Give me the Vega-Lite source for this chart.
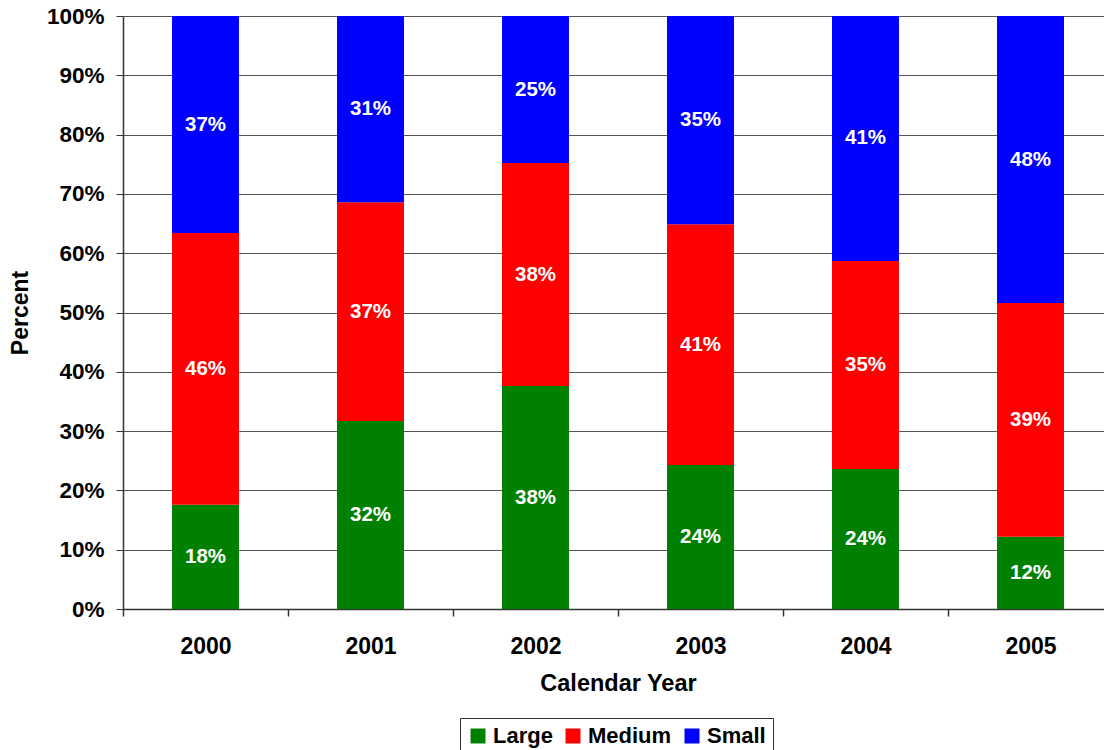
{
  "$schema": "https://vega.github.io/schema/vega-lite/v6.json",
  "width": 990,
  "height": 593,
  "autosize": {"type": "none"},
  "padding": {"left": 123, "top": 16, "right": 0, "bottom": 141},
  "background": "white",
  "config": {
    "view": {"stroke": null},
    "font": "Liberation Sans",
    "axis": {"labelFont": "Liberation Sans", "titleFont": "Liberation Sans"}
  },
  "data": {
    "values": [
      {"year": "2000", "size": "Large", "share": 0.176},
      {"year": "2000", "size": "Medium", "share": 0.458},
      {"year": "2000", "size": "Small", "share": 0.366},
      {"year": "2001", "size": "Large", "share": 0.317},
      {"year": "2001", "size": "Medium", "share": 0.369},
      {"year": "2001", "size": "Small", "share": 0.314},
      {"year": "2002", "size": "Large", "share": 0.376},
      {"year": "2002", "size": "Medium", "share": 0.376},
      {"year": "2002", "size": "Small", "share": 0.248},
      {"year": "2003", "size": "Large", "share": 0.243},
      {"year": "2003", "size": "Medium", "share": 0.406},
      {"year": "2003", "size": "Small", "share": 0.351},
      {"year": "2004", "size": "Large", "share": 0.236},
      {"year": "2004", "size": "Medium", "share": 0.351},
      {"year": "2004", "size": "Small", "share": 0.413},
      {"year": "2005", "size": "Large", "share": 0.122},
      {"year": "2005", "size": "Medium", "share": 0.394},
      {"year": "2005", "size": "Small", "share": 0.484}
    ]
  },
  "transform": [
    {
      "stack": "share",
      "groupby": ["year"],
      "sort": [{"field": "size", "order": "ascending"}],
      "offset": "normalize",
      "as": ["lo", "hi"]
    },
    {"calculate": "(datum.lo + datum.hi) / 2", "as": "mid"}
  ],
  "encoding": {
    "x": {
      "field": "year",
      "type": "ordinal",
      "scale": {"paddingInner": 0.594, "paddingOuter": 0.297},
      "axis": {
        "title": "Calendar Year",
        "titleFontSize": 23.5,
        "titleFontWeight": "bold",
        "titleColor": "black",
        "titlePadding": 13,
        "labelAngle": 0,
        "labelFontSize": 23,
        "labelFontWeight": "bold",
        "labelColor": "black",
        "labelPadding": 19,
        "tickOffset": -82.5,
        "labelOffset": 82.5,
        "tickSize": 7,
        "tickWidth": 1.5,
        "tickColor": "#333",
        "domainColor": "#333",
        "domainWidth": 1.5,
        "grid": false
      }
    }
  },
  "layer": [
    {
      "mark": {"type": "bar"},
      "encoding": {
        "y": {
          "field": "lo",
          "type": "quantitative",
          "scale": {"domain": [0, 1]},
          "axis": {
            "format": ".0%",
            "values": [0, 0.1, 0.2, 0.3, 0.4, 0.5, 0.6, 0.7, 0.8, 0.9, 1],
            "title": "Percent",
            "titleFontSize": 23,
            "titleFontWeight": "bold",
            "titleColor": "black",
            "titlePadding": 14,
            "labelFontSize": 22.5,
            "labelFontWeight": "bold",
            "labelColor": "black",
            "labelPadding": 12,
            "tickSize": 7,
            "tickColor": "#333",
            "domainColor": "#333",
            "domainWidth": 1.5,
            "grid": true,
            "gridColor": "#555",
            "gridWidth": 1
          }
        },
        "y2": {"field": "hi"},
        "color": {
          "field": "size",
          "type": "nominal",
          "scale": {"domain": ["Large", "Medium", "Small"], "range": ["#008000", "#ff0000", "#0000ff"]},
          "legend": {
            "title": null,
            "orient": "none",
            "direction": "horizontal",
            "legendX": 337,
            "legendY": 702,
            "strokeColor": "#333",
            "padding": 7,
            "symbolType": "square",
            "symbolSize": 225,
            "symbolStrokeWidth": 0,
            "symbolOpacity": 1,
            "labelFontSize": 22,
            "labelFontWeight": "bold",
            "labelColor": "black",
            "labelOffset": 4,
            "columnPadding": 9
          }
        }
      }
    },
    {
      "mark": {"type": "text", "color": "white", "fontSize": 20.5, "fontWeight": "bold", "baseline": "middle", "align": "center"},
      "encoding": {
        "y": {"field": "mid", "type": "quantitative"},
        "text": {"field": "share", "type": "quantitative", "format": ".0%"}
      }
    }
  ]
}
